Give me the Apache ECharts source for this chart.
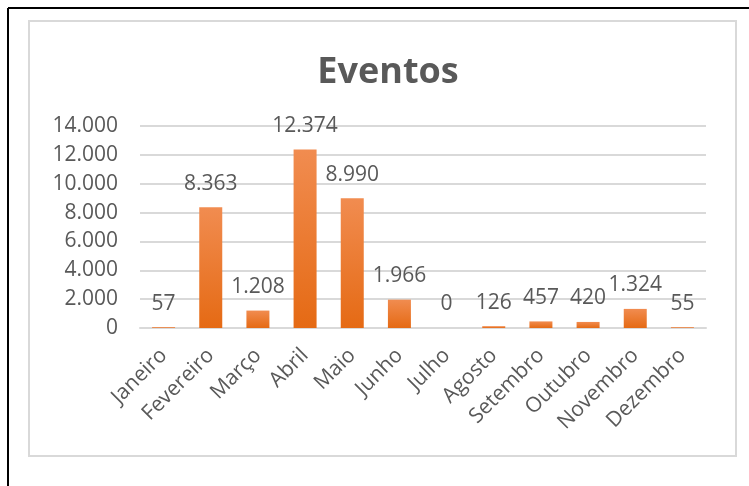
<!DOCTYPE html>
<html>
<head>
<meta charset="utf-8">
<script src="https://cdn.jsdelivr.net/npm/echarts@6/dist/echarts.min.js"></script>
<style>
  html, body { margin: 0; padding: 0; background: #fff; }
  #chart { width: 749px; height: 486px; }
</style>
</head>
<body>
<div id="chart"></div>
<script>
// meses e número de eventos
const months = ['Janeiro', 'Fevereiro', 'Março', 'Abril', 'Maio', 'Junho', 'Julho', 'Agosto', 'Setembro', 'Outubro', 'Novembro', 'Dezembro'];
const eventos = [57, 8363, 1208, 12374, 8990, 1966, 0, 126, 457, 420, 1324, 55];

const FONT = '"Open Sans", sans-serif';
const TXT = '#595959';

// separador de milhar com ponto (pt-BR)
function fmt(v) {
  return String(v).replace(/\B(?=(\d{3})+(?!\d))/g, '.');
}

const chart = echarts.init(document.getElementById('chart'), null, { renderer: 'canvas' });

chart.setOption({
  backgroundColor: '#fff',
  animation: false,
  title: {
    text: 'Eventos',
    left: 383,
    textAlign: 'center',
    top: 50,
    textStyle: { fontFamily: FONT, fontSize: 36, fontWeight: 'bold', color: TXT }
  },
  grid: { left: 140, right: 43, top: 126, bottom: 158 },
  xAxis: {
    type: 'category',
    data: months,
    axisLine: { lineStyle: { color: '#d9d9d9', width: 2 } },
    axisTick: { show: false },
    axisLabel: { rotate: 45, margin: 24, interval: 0, color: TXT, fontFamily: FONT, fontSize: 21 }
  },
  yAxis: {
    type: 'value',
    min: 0,
    max: 14000,
    interval: 2000,
    axisLine: { show: false },
    axisTick: { show: false },
    splitLine: { lineStyle: { color: '#d9d9d9', width: 2 } },
    axisLabel: { margin: 22, color: TXT, fontFamily: FONT, fontSize: 21, formatter: fmt }
  },
  series: [{
    type: 'bar',
    data: eventos,
    barWidth: 23,
    itemStyle: {
      color: new echarts.graphic.LinearGradient(0, 0, 0, 1, [
        { offset: 0, color: '#f18c50' },
        { offset: 1, color: '#e56a14' }
      ])
    },
    label: {
      show: true,
      position: 'top',
      distance: 13,
      color: TXT,
      fontFamily: FONT,
      fontSize: 21,
      formatter: p => fmt(p.value)
    }
  }],
  graphic: [
    // moldura preta externa (esquerda e topo)
    { type: 'line', shape: { x1: 8, y1: 8, x2: 749, y2: 8 }, style: { stroke: '#000', lineWidth: 2 } },
    { type: 'line', shape: { x1: 8, y1: 8, x2: 8, y2: 486 }, style: { stroke: '#000', lineWidth: 2 } },
    // caixa cinza do gráfico
    { type: 'rect', shape: { x: 29, y: 21, width: 707, height: 435 }, style: { fill: 'none', stroke: '#d9d9d9', lineWidth: 2 } }
  ]
});
</script>
</body>
</html>
